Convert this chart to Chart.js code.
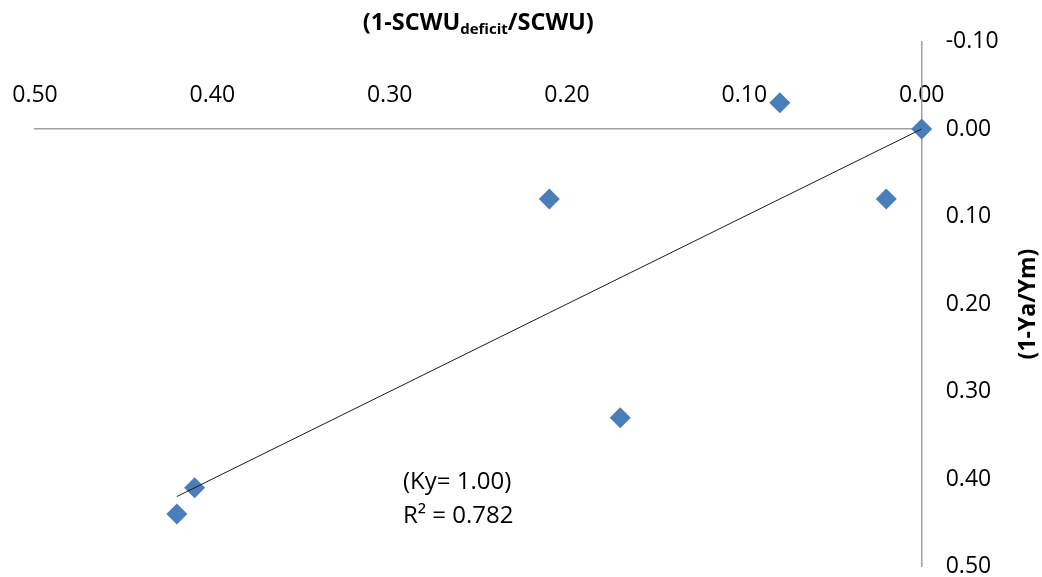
<!DOCTYPE html>
<html>
<head>
<meta charset="utf-8">
<script src="https://cdn.jsdelivr.net/npm/chart.js@4/dist/chart.umd.min.js"></script>
<style>
  html, body { margin: 0; padding: 0; background: #fff; }
  #wrap { width: 1042px; height: 577px; position: relative; }
</style>
</head>
<body>
<div id="wrap"><canvas id="c" width="1042" height="577"></canvas></div>
<script>
// ---- data ----
const xValues = [0.00, 0.08, 0.02, 0.21, 0.17, 0.41, 0.42];     // (1-SCWUdeficit/SCWU)
const yValues = [0.00, -0.03, 0.08, 0.08, 0.33, 0.41, 0.44];    // (1-Ya/Ym)
const trendX = [0.00, 0.42];
const trendY = [0.00, 0.42];
const xTickValues = [0.00, 0.10, 0.20, 0.30, 0.40, 0.50];
const yTickValues = [-0.10, 0.00, 0.10, 0.20, 0.30, 0.40, 0.50];
const kyText = '(Ky= 1.00)';
const r2Text = 'R\u00B2 = 0.782';

const FONT = '"Open Sans", "Liberation Sans", sans-serif';
const AXIS_COLOR = '#A0A0A0';
const MARK_COLOR = '#4A7EBB';

const points = xValues.map((x, i) => ({ x: x, y: yValues[i] }));
const trend = trendX.map((x, i) => ({ x: x, y: trendY[i] }));

const titlesPlugin = {
  id: 'titles',
  afterDraw(chart) {
    const ctx = chart.ctx;
    const ca = chart.chartArea;
    const xs = chart.scales.x, ys = chart.scales.y;
    ctx.save();
    ctx.fillStyle = '#000';
    // top axis title with subscript
    const main = 'bold 23.5px ' + FONT;
    const sub = 'bold 15px ' + FONT;
    const p1 = '(1-SCWU', p2 = 'deficit', p3 = '/SCWU)';
    ctx.font = main; const w1 = ctx.measureText(p1).width; const w3 = ctx.measureText(p3).width;
    ctx.font = sub; const w2 = ctx.measureText(p2).width;
    const total = w1 + w2 + w3;
    let tx = (ca.left + ca.right) / 2 - total / 2;
    const base = 30;
    ctx.textBaseline = 'alphabetic';
    ctx.textAlign = 'left';
    ctx.font = main; ctx.fillText(p1, tx, base); tx += w1;
    ctx.font = sub; ctx.fillText(p2, tx, base + 4); tx += w2;
    ctx.font = main; ctx.fillText(p3, tx, base);
    // right axis title (rotated)
    ctx.save();
    ctx.translate(1028, (ca.top + ca.bottom) / 2);
    ctx.rotate(-Math.PI / 2);
    ctx.font = 'bold 23px ' + FONT;
    ctx.textAlign = 'center';
    ctx.textBaseline = 'middle';
    ctx.fillText('(1-Ya/Ym)', 0, 0);
    ctx.restore();
    // trendline label
    ctx.font = '24px ' + FONT;
    ctx.textAlign = 'left';
    ctx.textBaseline = 'middle';
    const lx = xs.getPixelForValue(0.2925);
    const ly = ys.getPixelForValue(0.404);
    ctx.fillText(kyText, lx, ly);
    ctx.fillText(r2Text, lx, ly + 34);
    ctx.restore();
  }
};

new Chart(document.getElementById('c'), {
  type: 'scatter',
  data: {
    datasets: [
      {
        label: 'Trend',
        data: trend,
        showLine: true,
        borderColor: '#1a1a1a',
        borderWidth: 1,
        pointRadius: 0,
        fill: false,
        clip: false
      },
      {
        label: 'Data',
        data: points,
        pointStyle: 'rectRot',
        pointRadius: 10.5,
        pointBackgroundColor: MARK_COLOR,
        pointBorderColor: MARK_COLOR,
        pointBorderWidth: 0,
        showLine: false,
        clip: false
      }
    ]
  },
  options: {
    responsive: false,
    animation: false,
    devicePixelRatio: 1,
    layout: { padding: { left: 35, top: 41.5, right: 0, bottom: 10 } },
    plugins: { legend: { display: false }, tooltip: { enabled: false } },
    scales: {
      x: {
        type: 'linear',
        reverse: true,
        min: 0, max: 0.5,
        position: { y: 0 },
        afterBuildTicks: (s) => { s.ticks = xTickValues.map(v => ({ value: v })); },
        afterFit: (s) => { s.paddingLeft = 0; s.paddingRight = 0; s.paddingTop = 0; s.paddingBottom = 0; },
        grid: { display: false, drawTicks: false },
        border: { display: true, color: AXIS_COLOR, width: 1.5 },
        ticks: {
          autoSkip: false,
          maxRotation: 0,
          padding: -47,
          color: '#000',
          font: { family: FONT, size: 23 },
          callback: (v) => Number(v).toFixed(2)
        }
      },
      y: {
        type: 'linear',
        reverse: true,
        min: -0.1, max: 0.5,
        position: 'right',
        afterBuildTicks: (s) => { s.ticks = yTickValues.map(v => ({ value: v })); },
        afterFit: (s) => { s.width = 120.3; s.paddingTop = 0; s.paddingBottom = 0; },
        grid: { display: false, drawTicks: false },
        border: { display: true, color: AXIS_COLOR, width: 1.5 },
        ticks: {
          autoSkip: false,
          padding: 24,
          color: '#000',
          font: { family: FONT, size: 23 },
          callback: (v) => Number(v).toFixed(2)
        }
      }
    }
  },
  plugins: [titlesPlugin]
});
</script>
</body>
</html>
